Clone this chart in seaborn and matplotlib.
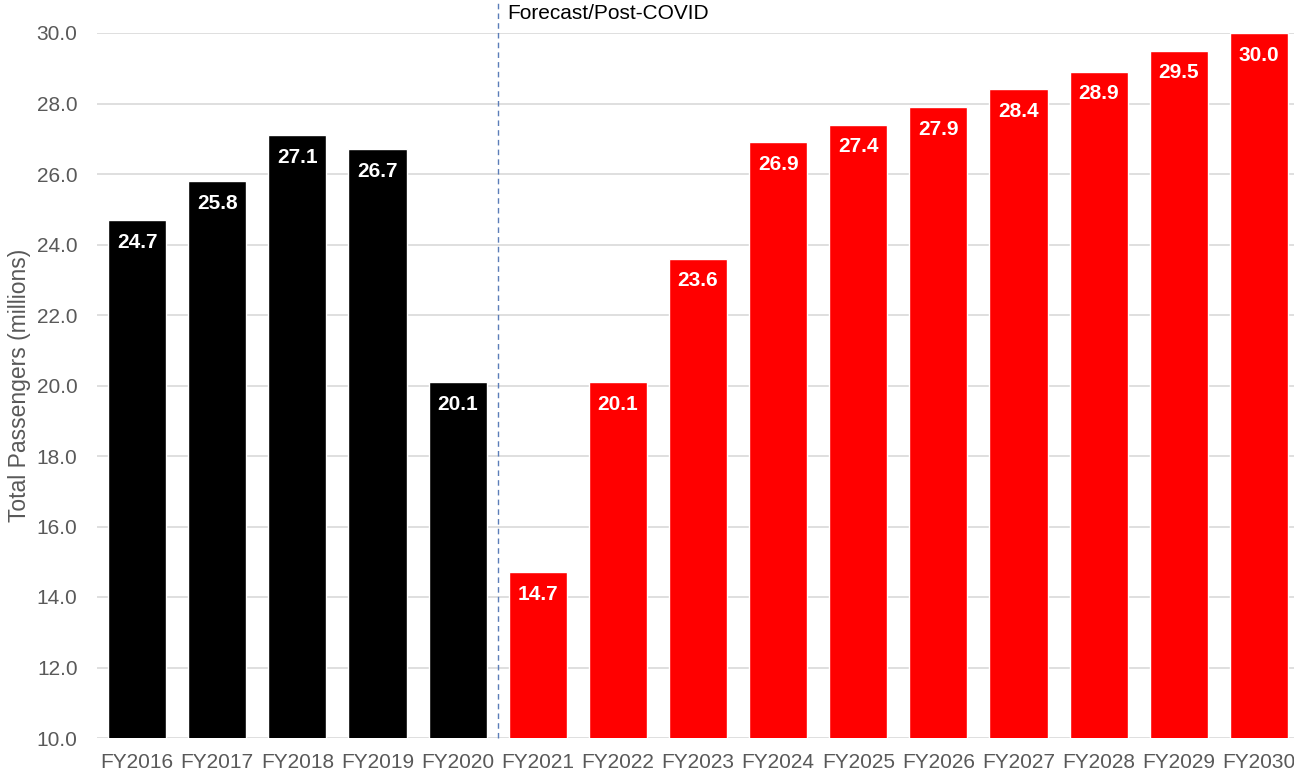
import matplotlib
matplotlib.use("Agg")
import matplotlib.pyplot as plt
import seaborn as sns
import pandas as pd

# Fiscal years and total passengers (millions)
years = ["FY2016", "FY2017", "FY2018", "FY2019", "FY2020", "FY2021", "FY2022",
         "FY2023", "FY2024", "FY2025", "FY2026", "FY2027", "FY2028", "FY2029", "FY2030"]
passengers = [24.7, 25.8, 27.1, 26.7, 20.1, 14.7, 20.1, 23.6, 26.9, 27.4, 27.9,
              28.4, 28.9, 29.5, 30.0]
periods = ["Actual"] * 5 + ["Forecast"] * 10
period_colors = {"Actual": "#000000", "Forecast": "#FF0000"}

sns.set_theme(style="white")
plt.rcParams["font.family"] = ["Liberation Sans", "DejaVu Sans"]

df = pd.DataFrame({"year": years, "passengers": passengers, "period": periods})

fig = plt.figure(figsize=(12.94, 7.78), dpi=100)
ax = fig.add_axes([97 / 1294, 1 - 738 / 778, 1202 / 1294, 705 / 778])

sns.barplot(data=df, x="year", y="passengers", hue="period", palette=period_colors,
            dodge=False, width=0.725, legend=False, ax=ax, saturation=1)

ax.set_ylim(10, 30)
ax.set_xlim(-0.5, len(years) - 0.5)
ax.set_yticks([10 + 2 * i for i in range(11)])
ax.set_yticklabels([f"{v:.1f}" for v in ax.get_yticks()])
ax.yaxis.grid(True, color="#D9D9D9", linewidth=1.2)
ax.set_axisbelow(True)
for s in ax.spines.values():
    s.set_visible(False)

ax.tick_params(axis="both", length=0, labelsize=15, labelcolor="#595959")
ax.tick_params(axis="y", pad=14)
ax.tick_params(axis="x", pad=11)
ax.set_xlabel("")
ax.set_ylabel("Total Passengers (millions)", fontsize=16.5, color="#595959", labelpad=4)

# value labels inside the top of each bar
for i, v in enumerate(passengers):
    ax.annotate(f"{v:.1f}", xy=(i, v), xytext=(0, -16), textcoords="offset points",
                ha="center", va="center", color="white", fontsize=15, fontweight="bold")

# divider between actuals and forecast
ax.axvline(4.5, ymin=0, ymax=738 / 705, color="#5B7DB8", linestyle=(0, (4, 3)),
           linewidth=1, clip_on=False)
ax.text(4.62, 30.55, "Forecast/Post-COVID", fontsize=15, color="#000000",
        ha="left", va="center")

fig.savefig("out.png", dpi=100)
